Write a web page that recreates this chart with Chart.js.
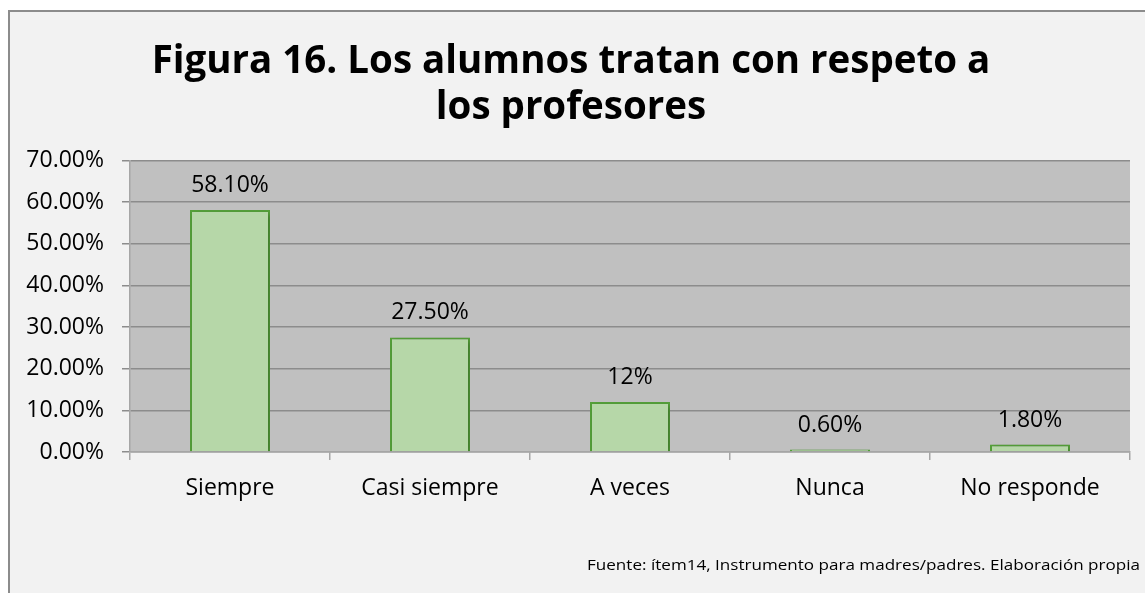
<!DOCTYPE html>
<html>
<head>
<meta charset="utf-8">
<script src="https://cdn.jsdelivr.net/npm/chart.js@4.4.0/dist/chart.umd.min.js"></script>
<style>
  html, body { margin: 0; padding: 0; background: #ffffff; }
  canvas { display: block; }
</style>
</head>
<body>
<canvas id="c" width="1145" height="593"></canvas>
<script>
// ---- data ----
const categories = ["Siempre", "Casi siempre", "A veces", "Nunca", "No responde"];
const values = [58.1, 27.5, 12, 0.6, 1.8];
const valueLabels = ["58.10%", "27.50%", "12%", "0.60%", "1.80%"];
const yTicks = { min: 0, max: 70, step: 10 };
const titleLines = ["Figura 16. Los alumnos tratan con respeto a", "los profesores"];
const footerText = "Fuente: ítem14, Instrumento para madres/padres. Elaboración propia";

const FONT = "'Open Sans', 'Noto Sans', sans-serif";

const backgroundPlugin = {
  id: 'bgPlugin',
  beforeDraw(chart) {
    const ctx = chart.ctx;
    const { width, height } = chart;
    ctx.save();
    ctx.fillStyle = '#ffffff';
    ctx.fillRect(0, 0, width, height);
    ctx.fillStyle = '#f2f2f2';
    ctx.fillRect(8, 10, width - 8, height - 10);
    ctx.strokeStyle = '#8c8c8c';
    ctx.lineWidth = 2;
    ctx.beginPath();
    ctx.moveTo(9, height);
    ctx.lineTo(9, 11);
    ctx.lineTo(width, 11);
    ctx.stroke();
    const a = chart.chartArea;
    ctx.fillStyle = '#c0c0c0';
    ctx.fillRect(a.left, a.top, a.right - a.left, a.bottom - a.top);
    ctx.restore();
  },
  beforeDatasetDraw(chart) {
    const ctx = chart.ctx;
    ctx.save();
    ctx.shadowColor = 'rgba(0,0,0,0.28)';
    ctx.shadowBlur = 5;
    ctx.shadowOffsetX = 2;
    ctx.shadowOffsetY = 2;
  },
  afterDatasetDraw(chart) {
    chart.ctx.restore();
  },
  afterDraw(chart) {
    const ctx = chart.ctx;
    ctx.save();
    // value labels
    ctx.fillStyle = '#000000';
    ctx.font = "23px " + FONT;
    ctx.textAlign = 'center';
    ctx.textBaseline = 'alphabetic';
    const meta = chart.getDatasetMeta(0);
    meta.data.forEach((bar, i) => {
      ctx.fillText(valueLabels[i], bar.x, bar.y - 18);
    });
    // footer
    ctx.font = "15px " + FONT;
    ctx.textAlign = 'left';
    const w = ctx.measureText(footerText).width;
    const target = 553;
    const left = 587;
    ctx.translate(left, 570);
    ctx.scale(target / w, 1);
    ctx.fillText(footerText, 0, 0);
    ctx.restore();
  }
};

new Chart(document.getElementById('c'), {
  type: 'bar',
  data: {
    labels: categories,
    datasets: [{
      data: values,
      backgroundColor: '#b6d7a8',
      borderColor: '#55a03a',
      borderWidth: 2,
      barPercentage: 0.4,
      categoryPercentage: 1.0
    }]
  },
  options: {
    responsive: false,
    devicePixelRatio: 1,
    animation: false,
    layout: { padding: { left: 12, right: 15, top: 0, bottom: 0 } },
    plugins: {
      legend: { display: false },
      tooltip: { enabled: false },
      title: {
        display: true,
        text: titleLines,
        color: '#000000',
        font: { family: FONT, size: 38.5, weight: 'bold', lineHeight: 1.2 },
        padding: { top: 39, bottom: 29 }
      }
    },
    scales: {
      x: {
        grid: {
          offset: true,
          drawOnChartArea: false,
          tickLength: 8,
          tickColor: '#a6a6a6',
          lineWidth: 1.5
        },
        border: { color: '#a6a6a6', width: 1.5 },
        ticks: {
          color: '#000000',
          font: { family: FONT, size: 23 },
          padding: 15,
          maxRotation: 0
        },
        afterFit(scale) { scale.height = 141; }
      },
      y: {
        min: yTicks.min,
        max: yTicks.max,
        grid: {
          color: '#8c8c8c',
          lineWidth: 1.5,
          tickLength: 8,
          tickColor: '#8c8c8c'
        },
        border: { color: '#a6a6a6', width: 1.5 },
        ticks: {
          stepSize: yTicks.step,
          color: '#000000',
          font: { family: FONT, size: 23 },
          padding: 18,
          callback: (v) => Number(v).toFixed(2) + '%'
        },
        afterFit(scale) { scale.width = 118; }
      }
    }
  },
  plugins: [backgroundPlugin]
});
</script>
</body>
</html>
